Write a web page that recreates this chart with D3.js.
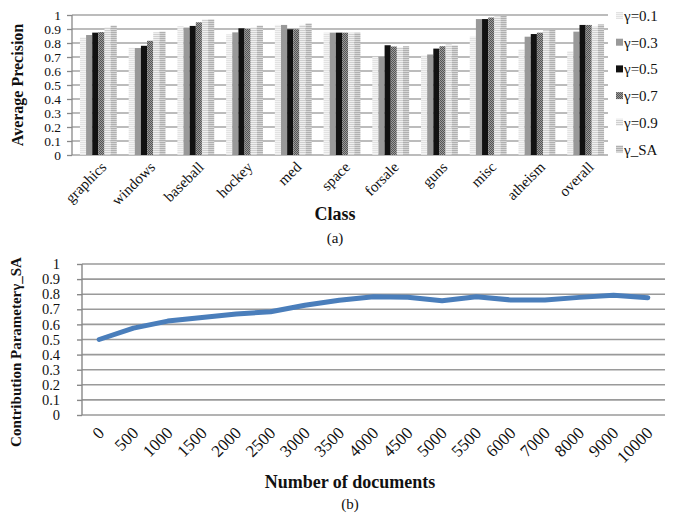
<!DOCTYPE html>
<html><head><meta charset="utf-8">
<script src="https://cdn.jsdelivr.net/npm/d3@7/dist/d3.min.js"></script>
<style>body{margin:0;background:#fff}svg{display:block}text{font-family:"Liberation Serif","DejaVu Serif",serif}</style>
</head><body><svg id="c" width="675" height="514"></svg>
<script>
const classes = ["graphics","windows","baseball","hockey","med","space","forsale","guns","misc","atheism","overall"];
const seriesNames = ["γ=0.1","γ=0.3","γ=0.5","γ=0.7","γ=0.9","γ_SA"];
const g01 = [0.84,0.766,0.92,0.862,0.929,0.874,0.702,0.712,0.845,0.755,0.743];
const g03 = [0.857,0.764,0.91,0.876,0.929,0.874,0.702,0.718,0.971,0.845,0.881];
const g05 = [0.874,0.78,0.922,0.905,0.898,0.874,0.784,0.76,0.971,0.864,0.929];
const g07 = [0.878,0.816,0.948,0.9,0.898,0.874,0.775,0.777,0.982,0.874,0.929];
const g09 = [0.912,0.876,0.969,0.912,0.929,0.874,0.769,0.79,0.99,0.893,0.917];
const gSA = [0.924,0.881,0.969,0.924,0.94,0.874,0.777,0.782,0.993,0.893,0.933];
const yTicksA = [0,0.1,0.2,0.3,0.4,0.5,0.6,0.7,0.8,0.9,1];

const docs = ["0","500","1000","1500","2000","2500","3000","3500","4000","4500","5000","5500","6000","7000","8000","9000","10000"];
const gammaSA = [0.5,0.575,0.622,0.645,0.669,0.684,0.727,0.76,0.783,0.78,0.757,0.783,0.762,0.762,0.779,0.793,0.777];
const yTicksB = [0,0.1,0.2,0.3,0.4,0.5,0.6,0.7,0.8,0.9,1];

const svg = d3.select("#c");
const defs = svg.append("defs");
function stripes(id, bg, fg, h){
  const p = defs.append("pattern").attr("id",id).attr("patternUnits","userSpaceOnUse").attr("width",4).attr("height",h);
  p.append("rect").attr("width",4).attr("height",h).attr("fill",bg);
  p.append("rect").attr("width",4).attr("height",1).attr("fill",fg);
}
stripes("p01","#f4f4f4","#e2e2e2",2);
stripes("p09","#f0f0f0","#cfcfcf",2);
stripes("pSA","#d6d6d6","#b0b0b0",2);
const pc = defs.append("pattern").attr("id","p07").attr("patternUnits","userSpaceOnUse").attr("width",2).attr("height",2);
pc.append("rect").attr("width",2).attr("height",2).attr("fill","#9a9a9a");
pc.append("rect").attr("width",1).attr("height",1).attr("fill","#555");
pc.append("rect").attr("x",1).attr("y",1).attr("width",1).attr("height",1).attr("fill","#555");
const fills = ["url(#p01)","#999999","#111111","url(#p07)","url(#p09)","url(#pSA)"];
const allSeries = [g01,g03,g05,g07,g09,gSA];

// ---------- Chart (a) ----------
const ax0 = 72, ax1 = 608, ay0 = 155, ay1 = 15;
const xA = d3.scaleBand().domain(classes).range([ax0+2, ax1+2]).paddingInner(0).paddingOuter(0);
const xSub = d3.scaleBand().domain(seriesNames).range([0, xA.bandwidth()]).paddingOuter(0.97).paddingInner(0);
const yA = d3.scaleLinear().domain([0,1]).range([ay0, ay1]);
const gA = svg.append("g");
gA.selectAll("line.grid").data(yTicksA).join("line")
  .attr("x1",ax0).attr("x2",ax1).attr("y1",d=>yA(d)).attr("y2",d=>yA(d))
  .attr("stroke","#a6a6a6").attr("stroke-width",1.3);
allSeries.forEach((vals,si)=>{
  gA.selectAll("rect.s"+si).data(classes).join("rect")
    .attr("x",c=>xA(c)+xSub(seriesNames[si]))
    .attr("width",xSub.bandwidth())
    .attr("y",(c,i)=>yA(vals[i]))
    .attr("height",(c,i)=>yA(0)-yA(vals[i]))
    .attr("fill",fills[si]);
});
const yAxisA = d3.axisLeft(yA).tickValues(yTicksA).tickFormat(d=>d3.format("")(d)).tickSize(5).tickPadding(6);
const ya = svg.append("g").attr("transform",`translate(${ax0},0)`).call(yAxisA);
ya.select(".domain").attr("stroke","#888").attr("stroke-width",1.3).attr("d",`M0,${ay1}V${ay0}`);
ya.selectAll(".tick line").attr("stroke","#888").attr("stroke-width",1.3);
ya.selectAll(".tick text").attr("font-size",13.5).attr("fill","#111");
const xa = svg.append("g").attr("transform",`translate(0,${ay0})`).call(d3.axisBottom(xA).tickSize(0).tickPadding(0));
xa.select(".domain").remove();
xa.selectAll(".tick text").attr("font-size",15).attr("fill","#111")
  .attr("text-anchor","end").attr("dy",0).attr("transform","translate(9,13) rotate(-45)");
svg.append("text").attr("transform","translate(23,85) rotate(-90)").attr("text-anchor","middle")
  .attr("font-weight","bold").attr("font-size",16).attr("fill","#111").text("Average Precision");
svg.append("text").attr("x",335).attr("y",220).attr("text-anchor","middle").attr("font-weight","bold").attr("font-size",18).attr("fill","#111").text("Class");
svg.append("text").attr("x",335).attr("y",243).attr("text-anchor","middle").attr("font-size",15).attr("fill","#111").text("(a)");
// legend
const lg = svg.append("g");
seriesNames.forEach((n,i)=>{
  const y = 16 + i*26.7;
  lg.append("rect").attr("x",616).attr("y",y-4).attr("width",7).attr("height",7).attr("fill",fills[i]);
  lg.append("text").attr("x",624).attr("y",y+5).attr("font-size",15).attr("fill","#111").text(n);
});

// ---------- Chart (b) ----------
const bx0 = 82, bx1 = 665, by0 = 415, by1 = 264;
const xB = d3.scaleBand().domain(docs).range([bx0, bx1]).padding(0);
const yB = d3.scaleLinear().domain([0,1]).range([by0, by1]);
const gB = svg.append("g");
gB.selectAll("line.grid").data(yTicksB).join("line")
  .attr("x1",bx0).attr("x2",bx1).attr("y1",d=>yB(d)).attr("y2",d=>yB(d))
  .attr("stroke","#9a9a9a").attr("stroke-width",1.6);
const yAxisB = d3.axisLeft(yB).tickValues(yTicksB).tickFormat(d=>d3.format("")(d)).tickSize(5).tickPadding(17);
const yb = svg.append("g").attr("transform",`translate(${bx0},0)`).call(yAxisB);
yb.select(".domain").attr("stroke","#888").attr("stroke-width",1.4).attr("d",`M0,${by1}V${by0}`);
yb.selectAll(".tick line").attr("stroke","#888").attr("stroke-width",1.4);
yb.selectAll(".tick text").attr("font-size",14.5).attr("fill","#111");
const line = d3.line().x((d,i)=>xB(docs[i])+xB.bandwidth()/2).y(d=>yB(d));
gB.append("path").datum(gammaSA).attr("d",line).attr("fill","none").attr("stroke","#4a7ebb")
  .attr("stroke-width",5).attr("stroke-linejoin","round").attr("stroke-linecap","round");
const xb = svg.append("g").attr("transform",`translate(0,${by0})`).call(d3.axisBottom(xB).tickSize(0).tickPadding(0));
xb.select(".domain").remove();
xb.selectAll(".tick text").attr("font-size",17).attr("fill","#111")
  .attr("text-anchor","end").attr("dy",0).attr("transform","translate(6,19) rotate(-45)");
svg.append("text").attr("transform","translate(21,352) rotate(-90)").attr("text-anchor","middle")
  .attr("font-weight","bold").attr("font-size",15).attr("fill","#111").text("Contribution Parameterγ_SA");
svg.append("text").attr("x",350).attr("y",488).attr("text-anchor","middle").attr("font-weight","bold").attr("font-size",18).attr("fill","#111").text("Number of documents");
svg.append("text").attr("x",350).attr("y",509).attr("text-anchor","middle").attr("font-size",15).attr("fill","#111").text("(b)");
</script></body></html>
